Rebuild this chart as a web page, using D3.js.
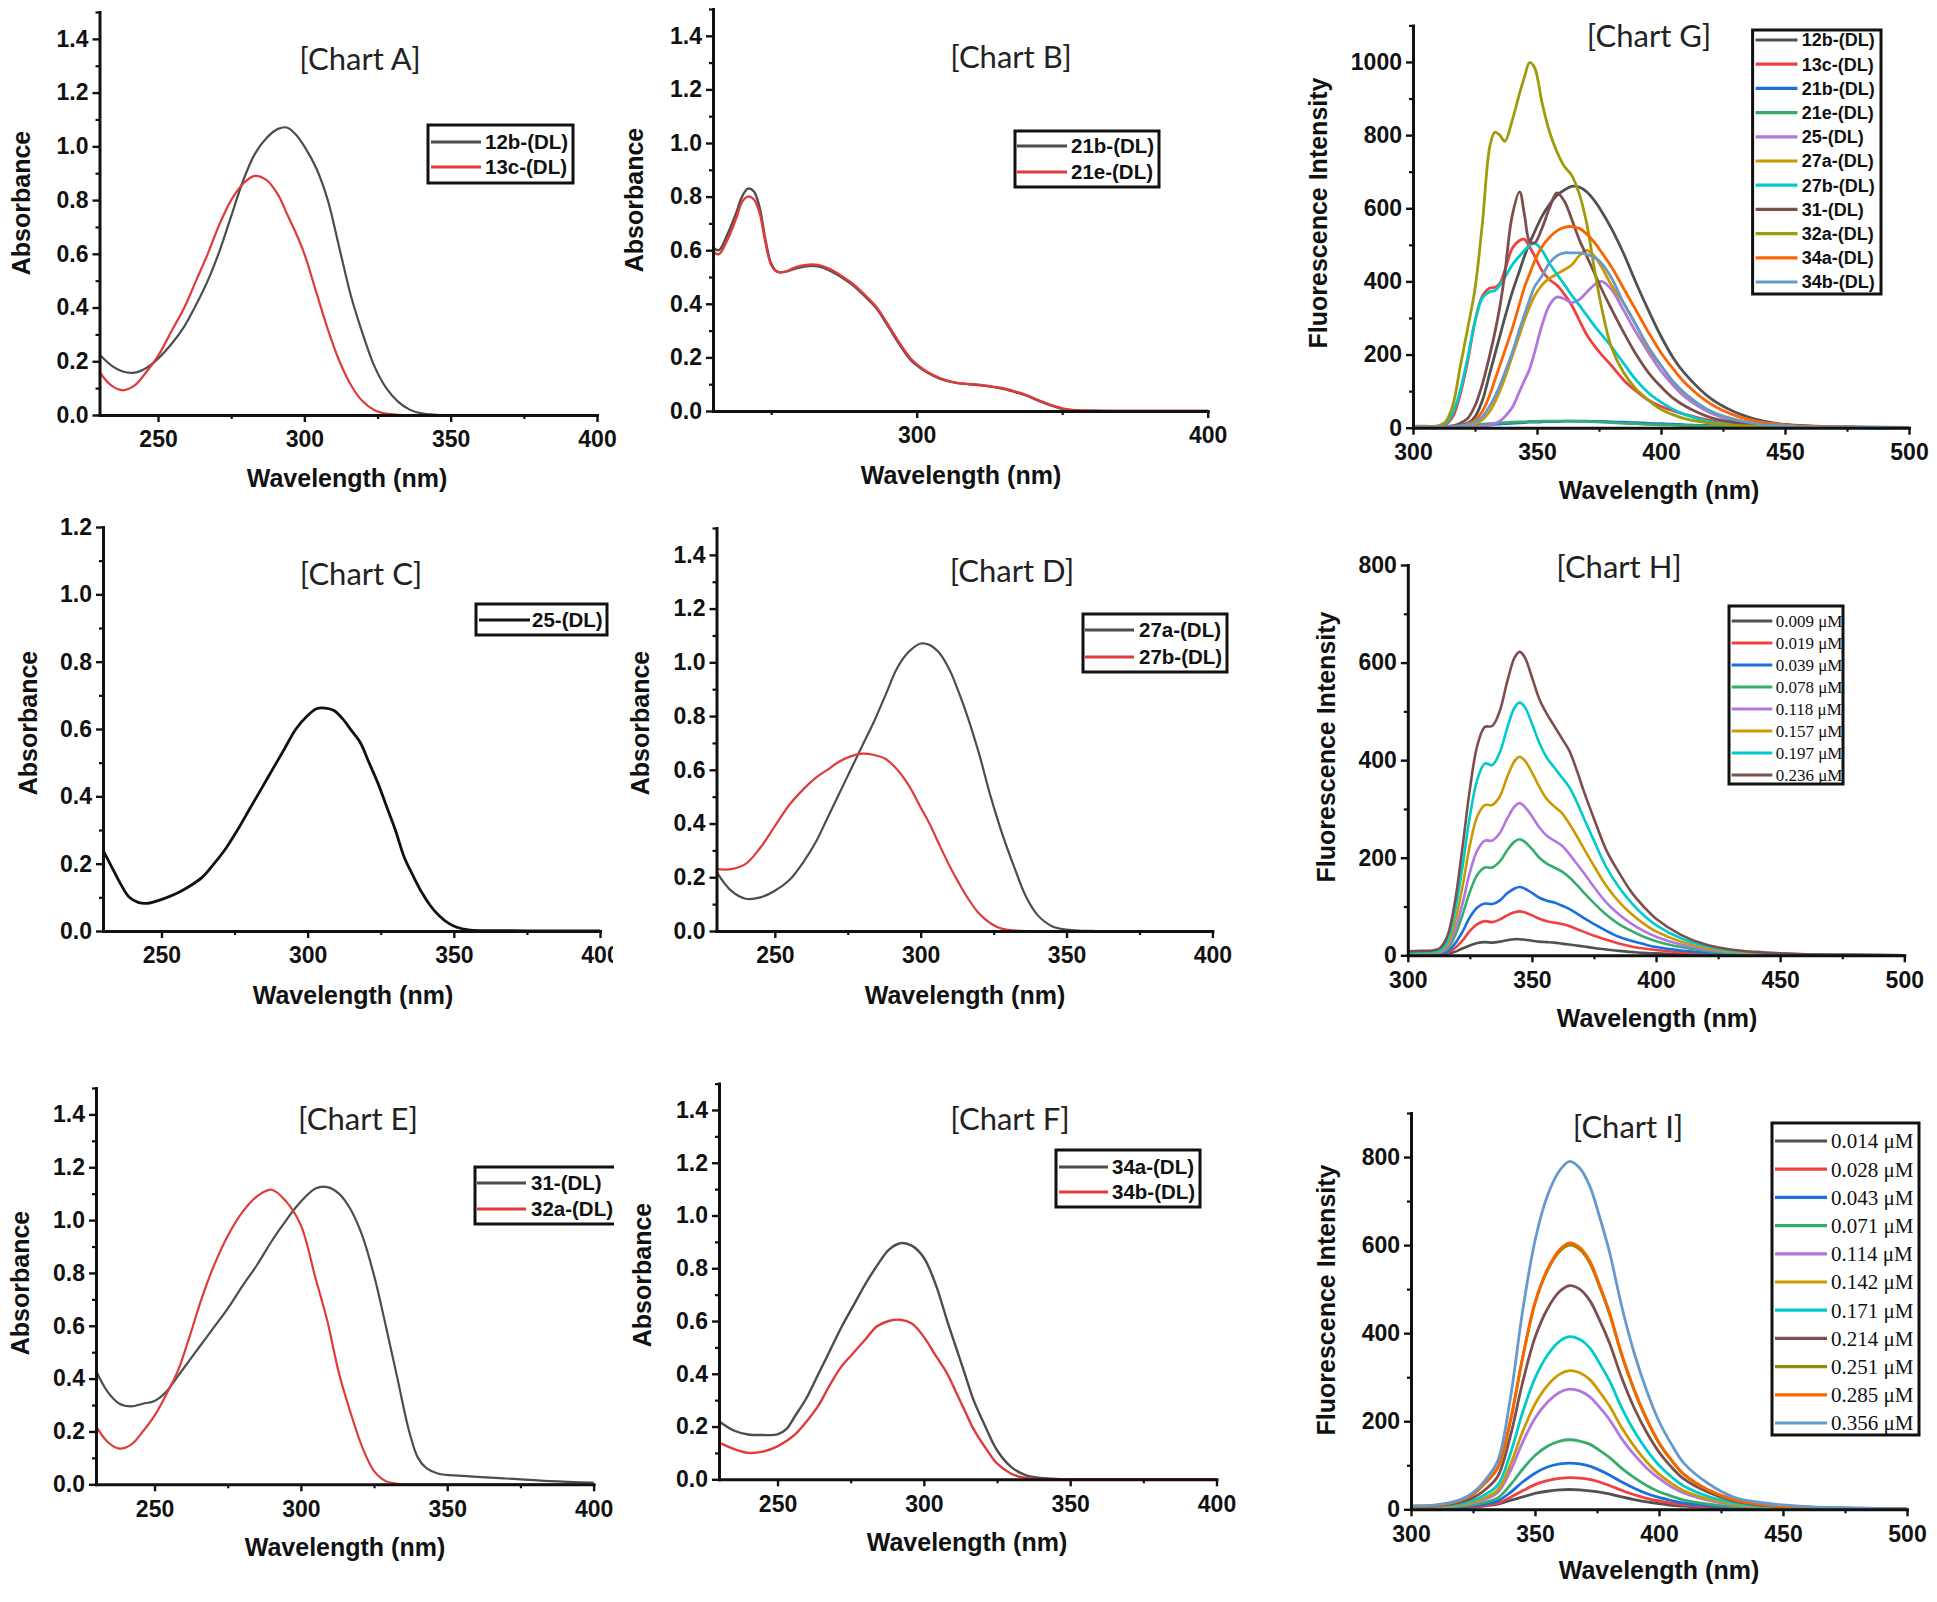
<!DOCTYPE html>
<html>
<head>
<meta charset="utf-8">
<script src="https://cdn.jsdelivr.net/npm/d3@7"></script>
<style>
  body { margin: 0; background: #fff; }
  svg { display: block; }
</style>
</head>
<body>
<svg id="fig" width="1937" height="1602"></svg>
<script>
// ---------- data ----------
// Chart A
const wlA = [230,234,238,242,246,250,255,259,263,267,271,275,279,283,287,291,294,297,300,304,308,312,316,320,324,328,332,336,340,345,350,360,380,400];
const a12b = [0.225,0.185,0.162,0.158,0.175,0.21,0.27,0.33,0.41,0.5,0.61,0.74,0.87,0.97,1.03,1.065,1.07,1.045,1.0,0.92,0.8,0.62,0.44,0.3,0.18,0.1,0.05,0.02,0.006,0.001,0,0,0,0];
const a13c = [0.16,0.11,0.092,0.11,0.16,0.22,0.32,0.4,0.5,0.6,0.71,0.8,0.86,0.89,0.875,0.82,0.75,0.68,0.6,0.46,0.32,0.2,0.11,0.05,0.018,0.005,0.001,0,0,0,0,0,0,0];
// Chart B
const wlB = [230,232,235,238,240,242,244,246,248,250,252,255,258,262,266,270,274,278,282,286,290,294,298,302,306,310,314,318,322,326,330,334,338,342,346,350,355,360,370,380,390,400];
const b21b = [0.61,0.60,0.66,0.74,0.80,0.83,0.82,0.76,0.64,0.55,0.52,0.52,0.53,0.54,0.54,0.525,0.50,0.47,0.43,0.385,0.32,0.25,0.19,0.155,0.13,0.113,0.104,0.10,0.096,0.09,0.082,0.07,0.056,0.038,0.021,0.008,0.002,0.001,0,0,0,0];
const b21e = [0.595,0.585,0.64,0.72,0.78,0.80,0.79,0.74,0.63,0.545,0.52,0.52,0.535,0.545,0.545,0.53,0.505,0.475,0.435,0.39,0.325,0.255,0.195,0.158,0.132,0.115,0.105,0.101,0.097,0.091,0.084,0.072,0.058,0.04,0.023,0.01,0.003,0.001,0,0,0,0];
// Chart C
const wlC = [230,233,236,239,242,245,248,252,256,260,264,268,272,276,280,284,288,292,296,300,303,306,309,312,315,318,321,324,327,330,333,336,339,342,345,348,351,355,360,370,380,390,400];
const c25 = [0.24,0.19,0.14,0.10,0.085,0.082,0.088,0.10,0.115,0.135,0.16,0.2,0.245,0.3,0.36,0.42,0.48,0.54,0.6,0.64,0.66,0.662,0.655,0.63,0.595,0.56,0.5,0.44,0.37,0.3,0.22,0.165,0.115,0.075,0.045,0.024,0.011,0.003,0.001,0.001,0,0,0];
// Chart D
const wlD = [230,235,240,245,250,255,260,264,268,272,276,280,284,288,292,296,300,303,306,310,313,316,320,324,328,332,336,340,345,350,355,360,380,400];
const d27a = [0.22,0.15,0.12,0.125,0.15,0.19,0.26,0.33,0.42,0.51,0.6,0.69,0.78,0.88,0.98,1.04,1.07,1.065,1.04,0.97,0.89,0.8,0.66,0.5,0.36,0.24,0.13,0.06,0.018,0.005,0.001,0,0,0];
const d27b = [0.23,0.23,0.25,0.31,0.39,0.47,0.53,0.57,0.6,0.63,0.65,0.66,0.655,0.64,0.6,0.54,0.46,0.4,0.33,0.24,0.18,0.125,0.065,0.028,0.008,0.002,0,0,0,0,0,0,0,0];
// Chart E
const wlE = [230,234,238,242,246,250,254,258,262,266,270,275,280,285,290,295,300,305,309,313,317,321,325,329,333,337,340,343,347,355,370,385,400];
const e31 = [0.43,0.35,0.305,0.295,0.305,0.315,0.35,0.41,0.47,0.53,0.59,0.665,0.75,0.83,0.92,1.0,1.07,1.12,1.125,1.1,1.04,0.94,0.79,0.6,0.4,0.2,0.1,0.06,0.04,0.032,0.022,0.012,0.006];
const e32a = [0.22,0.16,0.135,0.15,0.2,0.26,0.34,0.43,0.56,0.7,0.82,0.94,1.03,1.09,1.115,1.07,0.98,0.78,0.62,0.42,0.27,0.14,0.05,0.012,0.002,0,0,0,0,0,0,0,0];
// Chart F
const wlF = [230,235,240,245,250,253,256,260,264,268,272,276,280,284,288,292,296,300,304,308,311,314,317,321,325,330,335,340,345,350,360,380,400];
const f34a = [0.22,0.185,0.17,0.168,0.17,0.19,0.24,0.31,0.4,0.49,0.58,0.66,0.74,0.81,0.87,0.895,0.885,0.84,0.74,0.6,0.5,0.4,0.3,0.2,0.11,0.045,0.015,0.005,0.001,0,0,0,0];
const f34b = [0.14,0.115,0.1,0.105,0.125,0.145,0.17,0.22,0.28,0.36,0.43,0.48,0.53,0.58,0.6,0.605,0.59,0.54,0.47,0.4,0.33,0.26,0.19,0.12,0.06,0.02,0.005,0.001,0,0,0,0,0];
// Chart G
const wlG = [300,305,310,313,316,319,322,325,328,331,333,335,337,340,343,345,347,349,352,355,358,361,364,367,370,373,376,380,385,390,395,400,405,410,420,430,440,450,460,480,500];
const g12b = [3,3,3,3,4,6,12,30,75,150,200,250,300,370,430,470,505,535,578,610,635,650,660,658,645,622,592,545,475,395,320,250,190,145,80,42,20,9,5,2,1];
const g13c = [2,2,3,8,30,90,180,290,360,382,384,395,430,490,512,515,495,470,430,405,390,365,335,295,255,225,200,170,130,100,75,58,46,36,20,10,6,3,2,1,0];
const g21b = [0,0,0,0,1,2,3,4,6,8,9,10,11,12,13,14,15,15,16,17,17,18,18,18,18,17,17,16,15,14,12,11,10,8,6,4,2,1,1,0,0];
const g21e = [0,0,0,1,2,4,6,8,10,11,12,13,14,15,16,16,17,17,18,18,18,18,18,17,17,16,15,14,12,11,9,8,7,6,4,3,2,1,1,0,0];
const g25 = [1,1,1,1,1,2,2,3,5,8,12,18,30,55,100,130,160,205,280,335,357,352,342,350,370,390,400,378,320,260,205,155,115,82,40,18,8,4,2,1,0];
const g27a = [2,2,2,2,2,3,5,10,22,45,70,100,135,195,255,295,330,360,390,408,420,432,445,470,485,470,440,390,340,280,215,170,125,90,45,22,10,5,2,1,0];
const g27b = [2,2,3,10,40,100,190,290,355,372,375,390,410,445,470,485,498,505,485,450,420,392,362,335,308,280,255,222,175,130,95,70,50,35,16,8,4,2,1,0,0];
const g31 = [2,2,2,3,5,12,25,60,120,200,260,330,420,580,645,580,510,505,545,600,642,620,570,515,470,425,380,325,260,200,150,112,80,58,28,14,7,4,2,1,0];
const g32a = [4,4,5,15,60,165,270,380,560,770,808,800,783,840,915,960,998,985,890,810,755,715,690,640,560,440,330,220,150,105,75,50,35,24,12,6,3,2,1,0,0];
const g34a = [2,2,2,2,3,5,10,20,45,90,130,170,210,270,340,385,420,455,495,520,538,548,550,545,530,508,480,440,380,320,260,205,160,120,65,33,16,8,4,1,0];
const g34b = [2,2,2,2,3,5,8,15,30,60,85,115,150,205,270,310,350,385,415,450,470,478,478,478,474,466,450,410,340,280,220,170,125,92,45,22,10,5,2,1,0];
// Chart H
const wlH = [300,305,310,313,316,319,322,325,328,331,334,337,340,343,345,347,350,353,356,359,362,365,368,371,375,380,385,390,395,400,410,420,430,440,450,460,480,500];
const h009 = [0,0,1,1,3,7,14,20,25,27,26,28,31,33,33,32,30,28,27,26,24,22,20,18,15,12,9,7,5,4,2,1,1,0,0,0,0,0];
const h019 = [1,1,1,2,5,15,30,50,64,70,68,73,82,88,90,88,82,75,70,67,64,60,54,48,40,32,24,18,14,11,6,3,2,1,1,0,0,0];
const h039 = [1,1,2,3,8,24,48,78,98,106,105,112,127,137,140,137,128,118,112,108,102,95,86,76,64,50,38,30,23,17,10,6,3,2,1,1,0,0];
const h078 = [2,2,3,5,13,40,82,130,165,180,180,192,215,233,238,233,218,200,188,180,172,160,145,128,107,83,64,50,38,29,17,9,5,3,2,1,0,0];
const h118 = [2,3,4,6,17,52,105,170,215,235,235,250,280,305,312,305,285,262,245,235,225,208,188,168,140,108,84,65,50,38,22,12,7,4,2,1,1,0];
const h157 = [3,4,5,8,22,68,140,225,285,308,308,325,365,398,407,400,375,345,320,305,292,270,245,218,183,142,110,85,65,49,28,15,8,5,3,2,1,0];
const h197 = [5,6,7,10,30,90,180,285,360,393,390,415,465,508,518,510,475,435,405,385,365,345,315,280,235,180,140,108,82,62,35,19,10,6,3,2,1,0];
const h236 = [8,9,10,15,40,110,220,340,430,468,470,500,560,610,622,612,570,525,495,470,445,420,380,335,280,215,170,130,100,75,42,22,12,7,4,2,1,0];
// Chart I
const wlI = [300,310,320,325,330,335,340,345,350,355,360,364,368,372,376,380,385,390,395,400,405,410,420,430,440,450,460,480,500];
const i014 = [2,2,3,5,8,12,20,28,36,41,44,45,44,42,39,35,28,22,17,13,9,7,4,2,1,1,0,0,0];
const i028 = [2,3,4,6,9,14,27,42,56,65,70,72,71,68,62,54,43,33,25,19,14,10,5,3,2,1,1,0,0];
const i043 = [2,3,5,8,12,19,38,62,82,96,103,105,103,98,89,78,62,48,36,27,20,14,8,4,2,1,1,0,0];
const i071 = [3,4,7,10,16,26,55,91,122,143,155,158,155,148,134,118,93,72,54,40,30,21,12,6,3,2,1,1,0];
const i114 = [4,5,9,14,23,38,86,152,207,243,266,273,269,256,232,204,160,124,94,70,51,37,20,10,6,3,2,1,0];
const i142 = [4,6,10,16,27,44,100,176,239,281,307,315,310,295,267,235,185,143,108,80,59,42,23,12,7,4,3,1,0];
const i171 = [5,7,13,20,34,55,125,220,298,350,382,392,386,367,332,292,230,178,135,100,74,53,29,15,8,5,3,1,0];
const i214 = [6,8,16,26,45,75,165,288,390,455,495,508,500,475,430,378,298,230,175,130,96,69,38,19,10,6,4,2,1];
const i251 = [7,9,20,34,60,94,198,343,467,542,586,600,590,560,506,444,349,270,204,150,111,79,43,22,12,7,5,2,1];
const i285 = [7,9,20,34,60,95,200,345,470,545,590,605,595,565,510,448,352,272,206,152,112,80,44,22,12,7,5,2,1];
const i356 = [8,10,22,38,67,110,250,450,610,712,770,790,775,735,665,585,460,355,270,200,148,105,58,28,16,10,6,3,1];

// tick values
const absTicks = [0,0.2,0.4,0.6,0.8,1.0,1.2,1.4];
const absMinor = [0.1,0.3,0.5,0.7,0.9,1.1,1.3,1.5];
const absTicksC = [0,0.2,0.4,0.6,0.8,1.0,1.2];
const absMinorC = [0.1,0.3,0.5,0.7,0.9,1.1];
const uvTicks = [250,300,350,400];
const uvMinor = [275,325,375];
const flTicks = [300,350,400,450,500];
const flMinor = [325,375,425,475];

// Origin default colour list
const PAL = ['#515151','#F14040','#1A6FDF','#37AD6B','#B177DE','#CC9900','#00CBCC','#7D4E4E','#8E8E00','#FB6501','#6699CC'];
const DK = '#4d4d4d', RD = '#e03b3b';

const SANS = "'Liberation Sans', Arial, sans-serif";
const SERIF = "'Liberation Serif', 'Times New Roman', serif";
const svg = d3.select('#fig');

function S(name, wl, vals, color) { return {name, wl, vals, color}; }

const panels = [
  { id:'A', title:'[Chart A]', titleAt:[360,70], left:99.5, right:597, top:12, bottom:415,
    xDomain:[230,400], yDomain:[0,1.5], xMajor:uvTicks, xMinor:uvMinor, yMajor:absTicks, yMinor:absMinor, yFmt:'.1f',
    yLabel:'Absorbance', yLabelAt:[21,203], xLabelAt:[347,478], lineW:2.2,
    legend:{x:428,y:125,w:145,h:58,rowY:142,step:25,l1:431,l2:481,tx:485,fs:20.5,font:SANS,bold:true},
    series:[S('12b-(DL)',wlA,a12b,DK), S('13c-(DL)',wlA,a13c,RD)] },
  { id:'B', title:'[Chart B]', titleAt:[1011,68], left:713, right:1207.7, top:9, bottom:411,
    xDomain:[230,400], yDomain:[0,1.5], xMajor:[300,400], xMinor:[250,350], yMajor:absTicks, yMinor:absMinor, yFmt:'.1f',
    yLabel:'Absorbance', yLabelAt:[634,200], xLabelAt:[961,475], lineW:2.4,
    legend:{x:1015,y:131,w:144,h:56,rowY:146,step:26,l1:1017,l2:1067,tx:1071,fs:20.5,font:SANS,bold:true},
    series:[S('21b-(DL)',wlB,b21b,DK), S('21e-(DL)',wlB,b21e,RD)] },
  { id:'C', title:'[Chart C]', titleAt:[361,585], left:103, right:600, top:527, bottom:931, clipW:613,
    xDomain:[230,400], yDomain:[0,1.2], xMajor:uvTicks, xMinor:uvMinor, yMajor:absTicksC, yMinor:absMinorC, yFmt:'.1f',
    yLabel:'Absorbance', yLabelAt:[28,723], xLabelAt:[353,995], lineW:2.8,
    legend:{x:476,y:604,w:131,h:31,rowY:620,step:26,l1:479,l2:530,tx:532,fs:20.5,font:SANS,bold:true},
    series:[S('25-(DL)',wlC,c25,'#111')] },
  { id:'D', title:'[Chart D]', titleAt:[1012,582], left:716.5, right:1212.4, top:528, bottom:931,
    xDomain:[230,400], yDomain:[0,1.5], xMajor:uvTicks, xMinor:uvMinor, yMajor:absTicks, yMinor:absMinor, yFmt:'.1f',
    yLabel:'Absorbance', yLabelAt:[640,723], xLabelAt:[965,995], lineW:2.2,
    legend:{x:1083,y:614,w:144,h:58,rowY:630,step:27,l1:1085,l2:1134,tx:1139,fs:20.5,font:SANS,bold:true},
    series:[S('27a-(DL)',wlD,d27a,DK), S('27b-(DL)',wlD,d27b,RD)] },
  { id:'E', title:'[Chart E]', titleAt:[358,1130], left:96, right:593.6, top:1088, bottom:1484.3, clipW:614,
    xDomain:[230,400], yDomain:[0,1.5], xMajor:uvTicks, xMinor:uvMinor, yMajor:absTicks, yMinor:absMinor, yFmt:'.1f',
    yLabel:'Absorbance', yLabelAt:[20,1283], xLabelAt:[345,1547], lineW:2.2,
    legend:{x:475,y:1167,w:150,h:57,rowY:1183,step:26,l1:477,l2:526,tx:531,fs:20.5,font:SANS,bold:true},
    series:[S('31-(DL)',wlE,e31,DK), S('32a-(DL)',wlE,e32a,RD)] },
  { id:'F', title:'[Chart F]', titleAt:[1010,1130], left:719, right:1216.5, top:1083.6, bottom:1479.3,
    xDomain:[230,400], yDomain:[0,1.5], xMajor:uvTicks, xMinor:uvMinor, yMajor:absTicks, yMinor:absMinor, yFmt:'.1f',
    yLabel:'Absorbance', yLabelAt:[642,1275], xLabelAt:[967,1542], lineW:2.4,
    legend:{x:1056,y:1150,w:144,h:57,rowY:1167,step:25,l1:1059,l2:1108,tx:1112,fs:20.5,font:SANS,bold:true},
    series:[S('34a-(DL)',wlF,f34a,DK), S('34b-(DL)',wlF,f34b,RD)] },
  { id:'G', title:'[Chart G]', titleAt:[1649,47], left:1413, right:1909, top:25.4, bottom:427.7,
    xDomain:[300,500], yDomain:[0,1100], xMajor:flTicks, xMinor:flMinor,
    yMajor:[0,200,400,600,800,1000], yMinor:[100,300,500,700,900,1100], yFmt:'d',
    yLabel:'Fluorescence Intensity', yLabelAt:[1318,213], xLabelAt:[1659,490], lineW:2.8,
    legend:{x:1752.6,y:30,w:128.4,h:264,rowY:40,step:24.2,l1:1755.6,l2:1797.5,tx:1801.7,fs:18,font:SANS,bold:true},
    series:[S('12b-(DL)',wlG,g12b,PAL[0]), S('13c-(DL)',wlG,g13c,PAL[1]), S('21b-(DL)',wlG,g21b,PAL[2]),
            S('21e-(DL)',wlG,g21e,PAL[3]), S('25-(DL)',wlG,g25,PAL[4]), S('27a-(DL)',wlG,g27a,PAL[5]),
            S('27b-(DL)',wlG,g27b,PAL[6]), S('31-(DL)',wlG,g31,PAL[7]), S('32a-(DL)',wlG,g32a,'#a09c08'),
            S('34a-(DL)',wlG,g34a,PAL[9]), S('34b-(DL)',wlG,g34b,PAL[10])] },
  { id:'H', title:'[Chart H]', titleAt:[1619,578], left:1407.8, right:1904.3, top:565, bottom:955.3,
    xDomain:[300,500], yDomain:[0,800], xMajor:flTicks, xMinor:flMinor,
    yMajor:[0,200,400,600,800], yMinor:[100,300,500,700], yFmt:'d',
    yLabel:'Fluorescence Intensity', yLabelAt:[1326,747], xLabelAt:[1657,1018], lineW:2.6,
    legend:{x:1729,y:606,w:114,h:178,rowY:621,step:22,l1:1731.7,l2:1772.3,tx:1775.7,fs:17,font:SERIF,bold:false},
    series:[S('0.009 μM',wlH,h009,PAL[0]), S('0.019 μM',wlH,h019,PAL[1]), S('0.039 μM',wlH,h039,PAL[2]),
            S('0.078 μM',wlH,h078,PAL[3]), S('0.118 μM',wlH,h118,PAL[4]), S('0.157 μM',wlH,h157,PAL[5]),
            S('0.197 μM',wlH,h197,PAL[6]), S('0.236 μM',wlH,h236,PAL[7])] },
  { id:'I', title:'[Chart I]', titleAt:[1628,1138], left:1411, right:1907, top:1113, bottom:1509.3,
    xDomain:[300,500], yDomain:[0,900], xMajor:flTicks, xMinor:flMinor,
    yMajor:[0,200,400,600,800], yMinor:[100,300,500,700,900], yFmt:'d',
    yLabel:'Fluorescence Intensity', yLabelAt:[1326,1300], xLabelAt:[1659,1570], lineW:2.8,
    legend:{x:1772,y:1123,w:147,h:312,rowY:1141,step:28.2,l1:1775,l2:1827,tx:1831,fs:21,font:SERIF,bold:false},
    series:[S('0.014 μM',wlI,i014,PAL[0]), S('0.028 μM',wlI,i028,PAL[1]), S('0.043 μM',wlI,i043,PAL[2]),
            S('0.071 μM',wlI,i071,PAL[3]), S('0.114 μM',wlI,i114,PAL[4]), S('0.142 μM',wlI,i142,PAL[5]),
            S('0.171 μM',wlI,i171,PAL[6]), S('0.214 μM',wlI,i214,PAL[7]), S('0.251 μM',wlI,i251,PAL[8]),
            S('0.285 μM',wlI,i285,PAL[9]), S('0.356 μM',wlI,i356,PAL[10])] }
];

function styleAxis(sel) {
  sel.select('.domain').attr('stroke', '#111').attr('stroke-width', 3).attr('stroke-linecap', 'square');
  sel.selectAll('.tick line').attr('stroke', '#111').attr('stroke-width', 2.4);
  sel.selectAll('.tick text').attr('font-family', SANS).attr('font-size', 23)
    .attr('font-weight', 'bold').attr('fill', '#111');
}

function drawPanel(p) {
  const g = svg.append('g').attr('class', 'panel-' + p.id);
  if (p.clipW) {
    svg.append('clipPath').attr('id', 'clip' + p.id)
      .append('rect').attr('x', 0).attr('y', 0).attr('width', p.clipW).attr('height', 1602);
    g.attr('clip-path', 'url(#clip' + p.id + ')');
  }

  const x = d3.scaleLinear().domain(p.xDomain).range([p.left, p.right]);
  const y = d3.scaleLinear().domain(p.yDomain).range([p.bottom, p.top]);

  const line = d3.line()
    .x(d => x(d[0]))
    .y(d => y(Math.max(0, d[1])))
    .curve(d3.curveCatmullRom.alpha(0.5));

  p.series.forEach(s => {
    g.append('path')
      .datum(d3.zip(s.wl, s.vals))
      .attr('d', line)
      .attr('fill', 'none')
      .attr('stroke', s.color)
      .attr('stroke-width', p.lineW)
      .attr('stroke-linejoin', 'round');
  });

  // minor ticks first, then the major axis on top
  g.append('g').attr('transform', 'translate(0,' + p.bottom + ')')
    .call(d3.axisBottom(x).tickValues(p.xMinor).tickSize(4).tickFormat(''))
    .call(a => { a.select('.domain').remove(); a.selectAll('line').attr('stroke', '#111').attr('stroke-width', 2.2); });
  g.append('g').attr('transform', 'translate(' + p.left + ',0)')
    .call(d3.axisLeft(y).tickValues(p.yMinor).tickSize(4).tickFormat(''))
    .call(a => { a.select('.domain').remove(); a.selectAll('line').attr('stroke', '#111').attr('stroke-width', 2.2); });

  g.append('g').attr('transform', 'translate(0,' + p.bottom + ')')
    .call(d3.axisBottom(x).tickValues(p.xMajor).tickSize(7).tickSizeOuter(0).tickPadding(9).tickFormat(d3.format('d')))
    .call(styleAxis);
  g.append('g').attr('transform', 'translate(' + p.left + ',0)')
    .call(d3.axisLeft(y).tickValues(p.yMajor).tickSize(7).tickSizeOuter(0).tickPadding(4).tickFormat(d3.format(p.yFmt)))
    .call(styleAxis);

  // title
  g.append('text')
    .attr('x', p.titleAt[0]).attr('y', p.titleAt[1])
    .attr('text-anchor', 'middle')
    .attr('font-family', "Lato, 'Open Sans', sans-serif")
    .attr('font-size', 31)
    .attr('fill', '#222')
    .text(p.title);

  // axis labels
  g.append('text')
    .attr('transform', 'translate(' + p.yLabelAt[0] + ',' + p.yLabelAt[1] + ') rotate(-90)')
    .attr('text-anchor', 'middle').attr('dy', '0.35em')
    .attr('font-family', SANS).attr('font-size', 25).attr('font-weight', 'bold').attr('fill', '#111')
    .text(p.yLabel);
  g.append('text')
    .attr('x', p.xLabelAt[0]).attr('y', p.xLabelAt[1])
    .attr('text-anchor', 'middle').attr('dy', '0.35em')
    .attr('font-family', SANS).attr('font-size', 25).attr('font-weight', 'bold').attr('fill', '#111')
    .text('Wavelength (nm)');

  // legend
  const L = p.legend;
  const lg = g.append('g');
  lg.append('rect')
    .attr('x', L.x).attr('y', L.y).attr('width', L.w).attr('height', L.h)
    .attr('fill', '#fff').attr('stroke', '#111').attr('stroke-width', 3);
  p.series.forEach((s, i) => {
    const ry = L.rowY + i * L.step;
    lg.append('line')
      .attr('x1', L.l1).attr('x2', L.l2).attr('y1', ry).attr('y2', ry)
      .attr('stroke', s.color).attr('stroke-width', 3.2);
    lg.append('text')
      .attr('x', L.tx).attr('y', ry).attr('dy', '0.35em')
      .attr('font-family', L.font).attr('font-size', L.fs)
      .attr('font-weight', L.bold ? 'bold' : 'normal').attr('fill', '#111')
      .text(s.name);
  });
}

panels.forEach(drawPanel);
</script>
</body>
</html>
